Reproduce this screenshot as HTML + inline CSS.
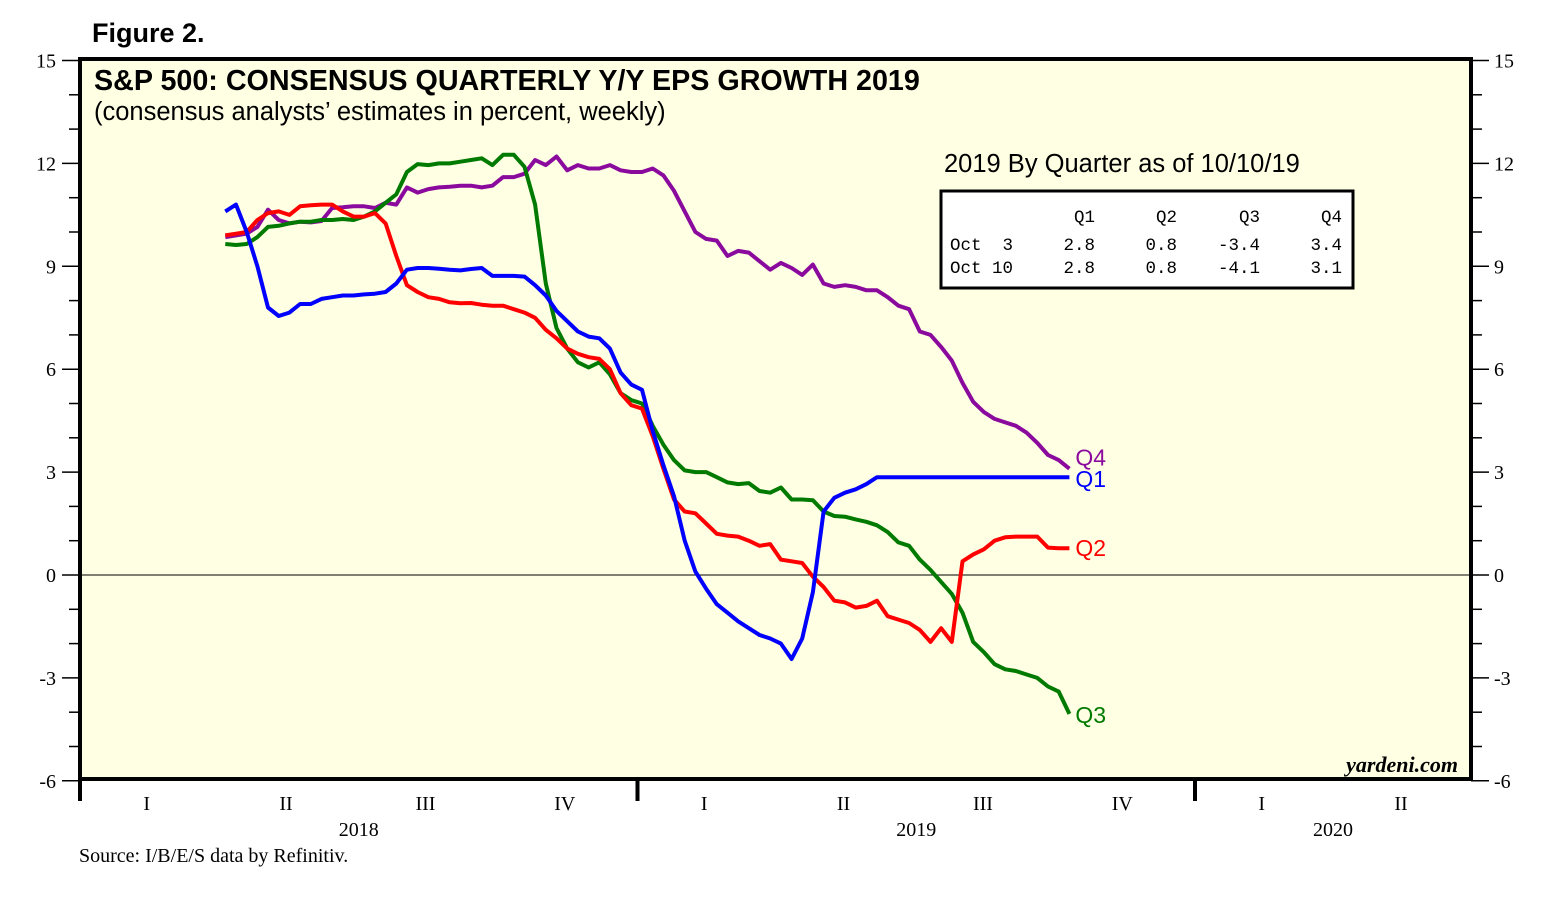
<!DOCTYPE html>
<html><head><meta charset="utf-8"><style>
body{margin:0;background:#fff;width:1552px;height:918px;overflow:hidden}
svg{display:block}
.serif{font-family:"Liberation Serif",serif}
.sans{font-family:"Liberation Sans",sans-serif}
.mono{font-family:"Liberation Mono",monospace}
</style></head><body>
<svg id="chart" width="1552" height="918">
<text x="92" y="42" class="sans" font-size="27" font-weight="bold">Figure 2.</text>
<rect x="80" y="59" width="1391" height="720" fill="#ffffe3"/>
<g id="axes"></g>
<g id="series"></g>
<rect x="80" y="59" width="1391" height="720" fill="none" stroke="#000" stroke-width="4"/>
<text x="94" y="90" class="sans" font-size="28.7" font-weight="bold">S&amp;P 500: CONSENSUS QUARTERLY Y/Y EPS GROWTH 2019</text>
<text x="94" y="120" class="sans" font-size="25.5">(consensus analysts’ estimates in percent, weekly)</text>
<text x="944" y="172" class="sans" font-size="25.5">2019 By Quarter as of 10/10/19</text>
<g>
<rect x="941" y="191" width="412" height="97" fill="#fff" stroke="#000" stroke-width="3"/>
<g class="mono" font-size="17.5">
<text x="1095" y="222" text-anchor="end">Q1</text><text x="1177" y="222" text-anchor="end">Q2</text><text x="1260" y="222" text-anchor="end">Q3</text><text x="1342" y="222" text-anchor="end">Q4</text>
<text x="950" y="250" xml:space="preserve">Oct  3</text><text x="1095" y="250" text-anchor="end">2.8</text><text x="1177" y="250" text-anchor="end">0.8</text><text x="1260" y="250" text-anchor="end">-3.4</text><text x="1342" y="250" text-anchor="end">3.4</text>
<text x="950" y="273">Oct 10</text><text x="1095" y="273" text-anchor="end">2.8</text><text x="1177" y="273" text-anchor="end">0.8</text><text x="1260" y="273" text-anchor="end">-4.1</text><text x="1342" y="273" text-anchor="end">3.1</text>
</g></g>
<text x="1458" y="772" class="serif" font-size="22" font-weight="bold" font-style="italic" text-anchor="end">yardeni.com</text>
<text x="79" y="862" class="serif" font-size="20">Source: I/B/E/S data by Refinitiv.</text>
</svg>
<script>
const yTicks=[15,12,9,6,3,0,-3,-6];
const quarterLabels=["I","II","III","IV","I","II","III","IV","I","II"];
const yearLabels=["2018","2019","2020"];
const seriesNames=["Q4","Q1","Q2","Q3"];
const q1=[10.6,10.8,10.0,9.0,7.8,7.55,7.65,7.9,7.9,8.05,8.1,8.15,8.15,8.18,8.2,8.25,8.5,8.9,8.95,8.95,8.93,8.9,8.88,8.92,8.95,8.72,8.72,8.72,8.7,8.45,8.15,7.7,7.4,7.1,6.95,6.9,6.6,5.9,5.55,5.4,4.2,3.2,2.3,1.0,0.1,-0.4,-0.85,-1.1,-1.35,-1.55,-1.75,-1.85,-2.0,-2.45,-1.85,-0.5,1.85,2.25,2.4,2.5,2.65,2.85,2.85,2.85,2.85,2.85,2.85,2.85,2.85,2.85,2.85,2.85,2.85,2.85,2.85,2.85,2.85,2.85,2.85,2.85];
const q2=[9.9,9.95,10.0,10.35,10.55,10.6,10.5,10.75,10.78,10.8,10.8,10.6,10.45,10.45,10.55,10.25,9.3,8.45,8.25,8.1,8.05,7.95,7.92,7.93,7.88,7.85,7.85,7.75,7.65,7.5,7.15,6.9,6.6,6.45,6.35,6.3,6.0,5.3,4.95,4.85,4.05,3.1,2.2,1.85,1.8,1.5,1.2,1.15,1.12,1.0,0.85,0.9,0.45,0.4,0.35,-0.05,-0.35,-0.75,-0.8,-0.95,-0.9,-0.75,-1.2,-1.3,-1.4,-1.6,-1.95,-1.55,-1.95,0.4,0.6,0.75,1.0,1.1,1.12,1.12,1.12,0.8,0.78,0.78];
const q3=[9.65,9.62,9.65,9.85,10.15,10.18,10.25,10.3,10.3,10.35,10.35,10.38,10.35,10.45,10.6,10.85,11.1,11.75,11.98,11.95,12.0,12.0,12.05,12.1,12.15,11.95,12.25,12.25,11.9,10.8,8.5,7.2,6.6,6.2,6.05,6.2,5.85,5.3,5.1,5.0,4.35,3.8,3.35,3.05,3.0,3.0,2.85,2.7,2.65,2.68,2.45,2.4,2.55,2.2,2.2,2.18,1.85,1.72,1.7,1.62,1.55,1.45,1.25,0.95,0.85,0.45,0.15,-0.2,-0.55,-1.1,-1.95,-2.25,-2.6,-2.75,-2.8,-2.9,-3.0,-3.25,-3.4,-4.05];
const q4=[9.85,9.9,9.95,10.15,10.65,10.35,10.25,10.3,10.28,10.32,10.7,10.72,10.75,10.75,10.7,10.85,10.8,11.3,11.15,11.25,11.3,11.32,11.35,11.35,11.3,11.35,11.6,11.6,11.7,12.1,11.95,12.2,11.8,11.95,11.85,11.85,11.95,11.8,11.75,11.75,11.85,11.65,11.2,10.6,10.0,9.8,9.75,9.3,9.45,9.4,9.15,8.9,9.1,8.95,8.75,9.05,8.5,8.4,8.45,8.4,8.3,8.3,8.1,7.85,7.75,7.1,7.0,6.65,6.25,5.6,5.05,4.75,4.55,4.45,4.35,4.15,3.85,3.5,3.35,3.1];
const startWeek=13.6;

const NS="http://www.w3.org/2000/svg";
const X0=80,YEAR=557.5,WEEK=YEAR/52.18;
const xWeek=w=>X0+(startWeek+w)*WEEK;
const yVal=v=>575-v*34.3;
function mk(tag,attrs,parent){const e=document.createElementNS(NS,tag);for(const k in attrs)e.setAttribute(k,attrs[k]);parent.appendChild(e);return e;}
const axes=document.getElementById('axes');
const zl=mk('line',{x1:80,x2:1471,y1:yVal(0),y2:yVal(0),stroke:'#000','stroke-width':1},axes);


for(let v=-6;v<=15;v++){
  const major=yTicks.includes(v);const y=yVal(v);
  const tl=mk('line',{x1:major?62:69,x2:80,y1:y,y2:y,stroke:'#000','stroke-width':1.5},axes);
  
  
  const tr=mk('line',{x1:1471,x2:major?1489:1482,y1:y,y2:y,stroke:'#000','stroke-width':1.5},axes);
  
  
}
yTicks.forEach(v=>{
  const l=mk('text',{x:56,y:yVal(v)+7,'text-anchor':'end','font-size':20,class:'serif'},axes);l.textContent=v;
  
  
  const r=mk('text',{x:1494,y:yVal(v)+7,'font-size':20,class:'serif'},axes);r.textContent=v;
  
  
});
for(let i=0;i<3;i++){
  const x=X0+i*YEAR;
  const t=mk('line',{x1:x,x2:x,y1:779,y2:801,stroke:'#000','stroke-width':4},axes);
  
  
  const span=Math.min(YEAR,1471-x);
  const yl=mk('text',{x:x+span/2,y:836,'text-anchor':'middle','font-size':20,class:'serif'},axes);yl.textContent=yearLabels[i];
  
  
}
quarterLabels.forEach((q,i)=>{
  const t=mk('text',{x:X0+(i+0.5)*YEAR/4-3,y:810,'text-anchor':'middle','font-size':20,class:'serif'},axes);t.textContent=q;
  
  
});
const sg=document.getElementById('series');
const defs=[[q4,'#8b0a9e','Q4',-3],[q3,'#007a00','Q3',9],[q2,'#ff0000','Q2',8],[q1,'#0000ff','Q1',10]];
defs.forEach(([data,col,name,dy])=>{
  const pts=data.map((v,i)=>xWeek(i).toFixed(1)+','+yVal(v).toFixed(1)).join(' ');
  const p=mk('polyline',{points:pts,fill:'none',stroke:col,'stroke-width':4,'stroke-linejoin':'round'},sg);
  
  
  const last=data[data.length-1];
  const t=mk('text',{x:xWeek(data.length-1)+6,y:yVal(last)+dy,fill:col,'font-size':23,class:'sans'},sg);t.textContent=name;
  
  
});
</script>
</body></html>
